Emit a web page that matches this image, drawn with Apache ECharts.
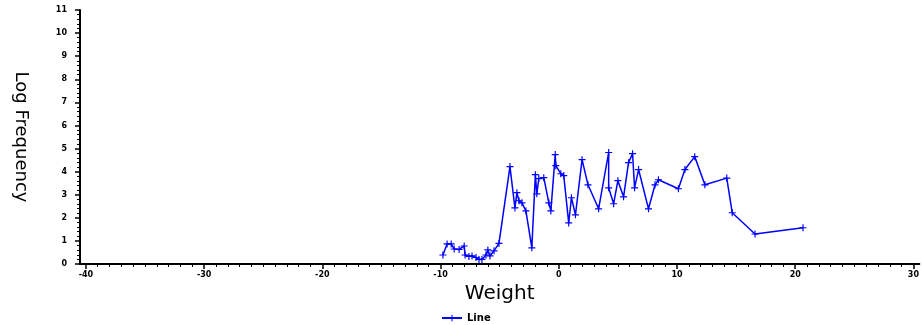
<!DOCTYPE html>
<html>
<head>
<meta charset="utf-8">
<script src="https://cdn.jsdelivr.net/npm/echarts@6/dist/echarts.min.js"></script>
<style>
  html, body { margin: 0; padding: 0; background: #fff; }
  #chart { width: 922px; height: 325px; }
</style>
</head>
<body>
<div id="chart"></div>
<script>
//  Data

var weightVals = [-9.8, -9.45, -9.1, -8.85, -8.43, -8.0, -7.93, -7.6, -7.34, -7.0,
  -6.75, -6.5, -6.16, -6.0, -5.82, -5.48, -5.06, -4.13, -3.71, -3.54,
  -3.37, -3.12, -2.78, -2.28, -1.98, -1.86, -1.69, -1.27, -0.84, -0.67,
  -0.3, -0.25, 0.17, 0.42, 0.84, 1.07, 1.41, 1.97, 2.47, 3.37,
  4.22, 4.22, 4.64, 5.0, 5.48, 5.9, 6.24, 6.41, 6.75, 7.59,
  8.14, 8.43, 10.12, 10.67, 11.5, 12.36, 14.21, 14.67, 16.6, 20.66];
var freqVals = [0.39, 0.87, 0.87, 0.65, 0.63, 0.78, 0.39, 0.33, 0.35, 0.28,
  0.2, 0.2, 0.39, 0.61, 0.35, 0.57, 0.89, 4.22, 2.43, 3.09,
  2.74, 2.65, 2.3, 0.7, 3.87, 3.04, 3.7, 3.74, 2.65, 2.3,
  4.74, 4.26, 3.91, 3.83, 1.78, 2.87, 2.13, 4.52, 3.43, 2.39,
  4.83, 3.3, 2.61, 3.61, 2.91, 4.39, 4.78, 3.3, 4.09, 2.39,
  3.43, 3.65, 3.26, 4.09, 4.65, 3.43, 3.72, 2.22, 1.3, 1.57];

var xTicks = [-40, -30, -20, -10, 0, 10, 20, 30];
var yTicks = [0, 1, 2, 3, 4, 5, 6, 7, 8, 9, 10, 11];

var points = weightVals.map(function(w, i) { return [w, freqVals[i]]; });

// minor x ticks every 1 unit
var xMinor = [];
for (var v = -40; v <= 30; v++) {
  if (v % 10 !== 0) xMinor.push(v);
}

var blue = '#0000ff';
var plus = 'path://M2.5,0h1v2.5h2.5v1h-2.5v2.5h-1v-2.5h-2.5v-1h2.5z';
var labelFont = {fontSize: 8, fontWeight: 'bold', color: '#000', fontFamily: 'DejaVu Sans'};

var myChart = echarts.init(document.getElementById('chart'), null, {renderer: 'canvas'});

var option = {
  animation: false,
  grid: {left: 80, right: 0, top: 10, bottom: 61},
  legend: {
    data: ['Line'],
    left: 436,
    top: 308,
    itemWidth: 20,
    itemHeight: 8,
    textStyle: {fontSize: 10, fontWeight: 'bold', color: '#000', fontFamily: 'DejaVu Sans'}
  },
  xAxis: [{
    type: 'value',
    min: -40.5,
    max: 30.5,
    name: 'Weight',
    nameLocation: 'middle',
    nameGap: 18,
    nameTextStyle: {fontSize: 20, color: '#000', fontFamily: 'DejaVu Sans'},
    axisLine: {onZero: false, lineStyle: {color: '#000', width: 2}},
    axisTick: {customValues: xTicks, length: 5, lineStyle: {color: '#000', width: 1.5}},
    axisLabel: Object.assign({customValues: xTicks, margin: 7}, labelFont),
    splitLine: {show: false}
  }, {
    type: 'value',
    min: -40.5,
    max: 30.5,
    position: 'bottom',
    axisLine: {show: false, onZero: false},
    axisTick: {customValues: xMinor, length: 3, lineStyle: {color: '#000', width: 1}},
    axisLabel: {show: false},
    splitLine: {show: false}
  }],
  yAxis: {
    type: 'value',
    min: 0,
    max: 11,
    interval: 1,
    name: 'Log Frequency',
    nameLocation: 'middle',
    nameRotate: -90,
    nameGap: 50,
    nameTextStyle: {fontSize: 18, color: '#000', fontFamily: 'DejaVu Sans'},
    axisLine: {onZero: false, lineStyle: {color: '#000', width: 2}},
    axisTick: {length: 5, lineStyle: {color: '#000', width: 1.5}},
    minorTick: {show: true, splitNumber: 5, length: 3, lineStyle: {color: '#000', width: 1}},
    axisLabel: Object.assign({margin: 13}, labelFont),
    splitLine: {show: false}
  },
  series: [{
    name: 'Line',
    type: 'line',
    xAxisIndex: 0,
    data: points,
    symbol: plus,
    symbolSize: 7,
    lineStyle: {color: blue, width: 1.5},
    itemStyle: {color: blue}
  }]
};
myChart.setOption(option);
</script>
</body>
</html>
